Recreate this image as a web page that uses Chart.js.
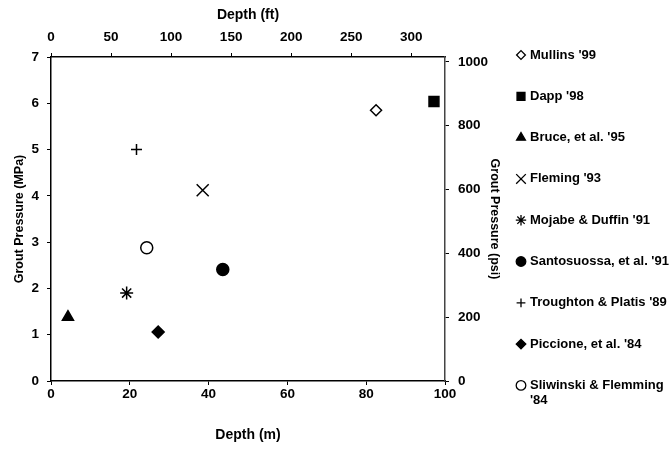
<!DOCTYPE html>
<html>
<head>
<meta charset="utf-8">
<script src="https://cdn.jsdelivr.net/npm/chart.js@4.4.0/dist/chart.umd.min.js"></script>
<style>
  html, body { margin: 0; padding: 0; background: #fff; }
  #wrap { width: 671px; height: 449px; }
</style>
</head>
<body>
<div id="wrap"><canvas id="chart" width="671" height="449"></canvas></div>
<script>
// Data
const studies = ["Mullins '99", "Dapp '98", "Bruce, et al. '95", "Fleming '93", "Mojabe & Duffin '91",
  "Santosuossa, et al. '91", "Troughton & Platis '89", "Piccione, et al. '84", "Sliwinski & Flemming '84"];
const depthM = [82.5, 97.2, 4.3, 38.5, 19.2, 43.6, 21.7, 27.2, 24.3];
const pressureMPa = [5.85, 6.04, 1.38, 4.12, 1.9, 2.41, 5.0, 1.06, 2.88];

const depthTicksM = [0, 20, 40, 60, 80, 100];
const depthTicksFt = [0, 50, 100, 150, 200, 250, 300];
const pressureTicksMPa = [0, 1, 2, 3, 4, 5, 6, 7];
const pressureTicksPsi = [0, 200, 400, 600, 800, 1000];

const FT_PER_M = 3.28084;
const PSI_PER_MPA = 145.038;

// Marker styles
const markerStyle = ['rectRot', 'rect', 'triangle', 'crossRot', 'star', 'circle', 'cross', 'rectRot', 'circle'];
const markerFill = ['#fff', '#000', '#000', '#000', '#000', '#000', '#000', '#000', '#fff'];
const markerRadius = [5.5, 7, 6.4, 8.5, 6.5, 6, 5.5, 6, 6];

const FONT = "'Liberation Sans', Arial, sans-serif";
const tickFont = { family: FONT, size: 13.5, weight: 'bold' };

const datasets = studies.map((name, i) => ({
  label: name,
  data: [{ x: depthM[i], y: pressureMPa[i] }],
  pointStyle: markerStyle[i],
  pointRadius: markerRadius[i],
  pointHoverRadius: markerRadius[i],
  pointBackgroundColor: markerFill[i],
  pointBorderColor: '#000',
  pointBorderWidth: 1.5,
  xAxisID: 'x',
  yAxisID: 'y'
}));

function onlyTicks(list) {
  return function (scale) {
    scale.ticks = list.map(v => ({ value: v }));
  };
}

function axisGrid() {
  return { display: true, drawOnChartArea: false, drawTicks: true, tickLength: 4, color: '#000', lineWidth: 1 };
}

// Custom legend on the right, drawn in the canvas
const sideLegend = {
  id: 'sideLegend',
  afterDraw(chart) {
    const ctx = chart.ctx;
    const x0 = 521, textX = 530, y0 = 55, step = 41.3;
    ctx.save();
    ctx.font = 'bold 13px ' + FONT;
    ctx.textBaseline = 'middle';
    studies.forEach((name, i) => {
      const y = y0 + i * step;
      ctx.strokeStyle = '#000';
      ctx.fillStyle = markerFill[i];
      ctx.lineWidth = 1.3;
      Chart.helpers.drawPoint(ctx, { pointStyle: markerStyle[i], radius: markerRadius[i] * 0.8, rotation: 0, borderWidth: 1.3 }, x0, y);
      ctx.fillStyle = '#000';
      if (ctx.measureText(name).width > chart.width - textX) {
        const cut = name.lastIndexOf(' ');
        ctx.fillText(name.slice(0, cut), textX, y);
        ctx.fillText(name.slice(cut + 1), textX, y + 15.5);
      } else {
        ctx.fillText(name, textX, y);
      }
    });
    ctx.restore();
  }
};

const plain = v => String(v);

new Chart(document.getElementById('chart'), {
  type: 'scatter',
  data: { datasets: datasets },
  options: {
    responsive: false,
    animation: false,
    events: [],
    layout: { padding: { left: 0, right: 161, top: 0, bottom: 0 } },
    plugins: {
      legend: { display: false },
      tooltip: { enabled: false }
    },
    scales: {
      x: {
        type: 'linear', position: 'bottom', min: 0, max: 100,
        afterBuildTicks: onlyTicks(depthTicksM),
        afterFit(s) { s.height = 68; },
        grid: axisGrid(),
        border: { display: true, color: '#000', width: 1.5 },
        ticks: { color: '#000', font: tickFont, padding: 1, maxRotation: 0, callback: plain },
        title: { display: true, text: 'Depth (m)', color: '#000', font: { family: FONT, size: 14, weight: 'bold' }, padding: { top: 0, bottom: 5 } }
      },
      xft: {
        type: 'linear', position: 'top', min: 0, max: 100 * FT_PER_M,
        afterBuildTicks: onlyTicks(depthTicksFt),
        afterFit(s) { s.height = 57; },
        grid: axisGrid(),
        border: { display: true, color: '#000', width: 1.5 },
        ticks: { color: '#000', font: tickFont, padding: 8, maxRotation: 0, callback: plain },
        title: { display: true, text: 'Depth (ft)', color: '#000', font: { family: FONT, size: 14, weight: 'bold' }, padding: { top: 6.6, bottom: 0 } }
      },
      y: {
        type: 'linear', position: 'left', min: 0, max: 7,
        afterBuildTicks: onlyTicks(pressureTicksMPa),
        afterFit(s) { s.width = 51; },
        grid: axisGrid(),
        border: { display: true, color: '#000', width: 1.5 },
        ticks: { color: '#000', font: tickFont, padding: 8, callback: plain },
        title: { display: true, text: 'Grout Pressure (MPa)', color: '#000', font: { family: FONT, size: 12.5, weight: 'bold' }, padding: { top: 12, bottom: 0 } }
      },
      ypsi: {
        type: 'linear', position: 'right', min: 0, max: 7 * PSI_PER_MPA,
        afterBuildTicks: onlyTicks(pressureTicksPsi),
        afterFit(s) { s.width = 65; },
        grid: axisGrid(),
        border: { display: true, color: '#444', width: 1.5 },
        ticks: { color: '#000', font: tickFont, padding: 9, callback: plain },
        title: { display: true, text: 'Grout Pressure (psi)', color: '#000', font: { family: FONT, size: 12.5, weight: 'bold' }, padding: { top: 8.5, bottom: 0 } }
      }
    }
  },
  plugins: [sideLegend]
});
</script>
</body>
</html>
